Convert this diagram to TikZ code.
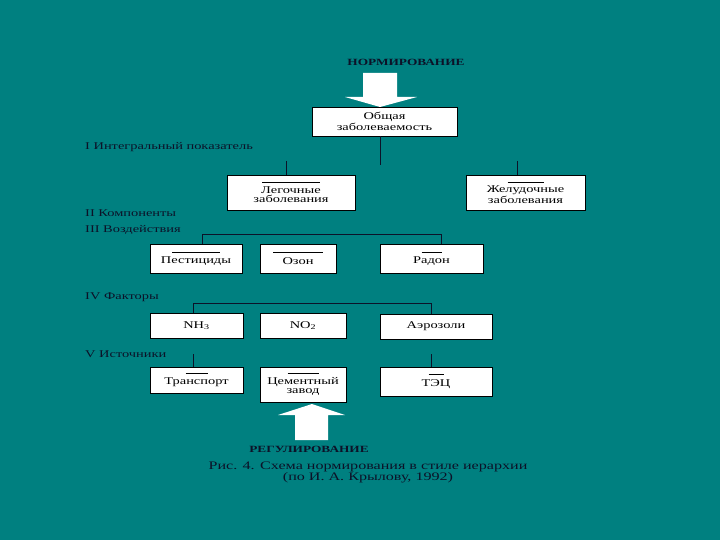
\documentclass[tikz,border=0pt]{standalone}
\usepackage{fontspec}
\setmainfont{Liberation Serif}[FakeStretch=1.4]
\definecolor{bg}{RGB}{0,128,128}
\definecolor{ink}{RGB}{12,18,40}
\newcommand\topbar[1]{\rule[0pt]{#1}{0.5pt}}
\begin{document}
\begin{tikzpicture}[x=1pt,y=-1pt,
  box/.style={draw=black, fill=white, line width=0.8pt, inner sep=0pt, align=center,
    font=\fontsize{10.3}{9.5}\selectfont, text=black},
  lvl/.style={anchor=west, inner sep=0pt, font=\fontsize{10.3}{10}\selectfont, text=ink},
  headtext/.style={inner sep=0pt, font=\fontsize{9.5}{10}\selectfont\bfseries, text=ink},
  captext/.style={inner sep=0pt, align=center, font=\fontsize{11.5}{11}\selectfont, text=ink},
  conn/.style={draw=ink, line width=0.6pt},
  blockarrow/.style={fill=white, draw=none}]
\fill[bg] (0,0) rectangle (720,540);
\useasboundingbox (0,0) rectangle (720,540);

% top
\node[headtext] (norm) at (406,62) {НОРМИРОВАНИЕ};
\fill[blockarrow] (363,73) -- (397,73) -- (397,97) -- (417,97) -- (380,107) -- (345,97) -- (363,97) -- cycle;
\node[box, minimum width=145, minimum height=29] (ob) at (384.5,121.5) {Общая\\заболеваемость};
\coordinate (c1) at (380,165);
\draw[conn] (c1 |- ob.south) -- (c1);

\node[lvl] (l1) at (85,147) {I Интегральный показатель};
\node[box, minimum width=128, minimum height=35] (leg) at (291,192.5) {\topbar{58pt}\\[1pt]Легочные\\заболевания};
\node[box, minimum width=119, minimum height=35] (zhel) at (525.5,192.5) {\topbar{36pt}\\[1pt]Желудочные\\заболевания};
\coordinate (s1) at (286,161);
\coordinate (s2) at (517,161);
\draw[conn] (s1) -- (s1 |- leg.north);
\draw[conn] (s2) -- (s2 |- zhel.north);

\node[lvl] (l2) at (85,213) {II Компоненты};
\node[lvl] (l3) at (85,230) {III Воздействия};
\node[box, minimum width=92, minimum height=29] (pest) at (196,258.5) {\topbar{48pt}\\[2pt]Пестициды};
\node[box, minimum width=76, minimum height=29] (ozon) at (298,258.5) {\topbar{50pt}\\[2pt]Озон};
\node[box, minimum width=103, minimum height=29] (radon) at (431.5,258.5) {\topbar{20pt}\\[2pt]Радон};
\coordinate (h3a) at (202,234);
\coordinate (h3b) at (441,234);
\draw[conn] (h3a |- pest.north) -- (h3a) -- (h3b) -- (h3b |- radon.north);

\node[lvl] (l4) at (85,297) {IV Факторы};
\node[box, minimum width=93, minimum height=25] (nh) at (196.5,325.5) {NH\textsubscript{3}};
\node[box, minimum width=86, minimum height=25] (no) at (303,325.5) {NO\textsubscript{2}};
\node[box, minimum width=112, minimum height=25] (aer) at (436,326.5) {Аэрозоли};
\coordinate (h4a) at (193,303);
\coordinate (h4b) at (431,303);
\draw[conn] (h4a |- nh.north) -- (h4a) -- (h4b) -- (h4b |- aer.north);

\node[lvl] (l5) at (85,354) {V Источники};
\node[box, minimum width=93, minimum height=26] (tr) at (196.5,380) {\topbar{22pt}\\[1pt]Транспорт};
\node[box, minimum width=86, minimum height=35] (cem) at (303,384.5) {\topbar{31pt}\\[1pt]Цементный\\завод};
\node[box, minimum width=112, minimum height=29] (tec) at (436,381.5) {\topbar{15pt}\\[2pt]ТЭЦ};
\coordinate (s5a) at (193,354);
\coordinate (s5b) at (431,354);
\draw[conn] (s5a) -- (s5a |- tr.north);
\draw[conn] (s5b) -- (s5b |- tec.north);

% bottom
\fill[blockarrow] (295,440) -- (328,440) -- (328,415) -- (345,415) -- (312,404) -- (278,415) -- (295,415) -- cycle;
\node[headtext] (reg) at (309,449) {РЕГУЛИРОВАНИЕ};
\node[captext] (caption) at (368,472.5) {Рис. 4. Схема нормирования в стиле иерархии\\(по И. А. Крылову, 1992)};
\end{tikzpicture}
\end{document}
